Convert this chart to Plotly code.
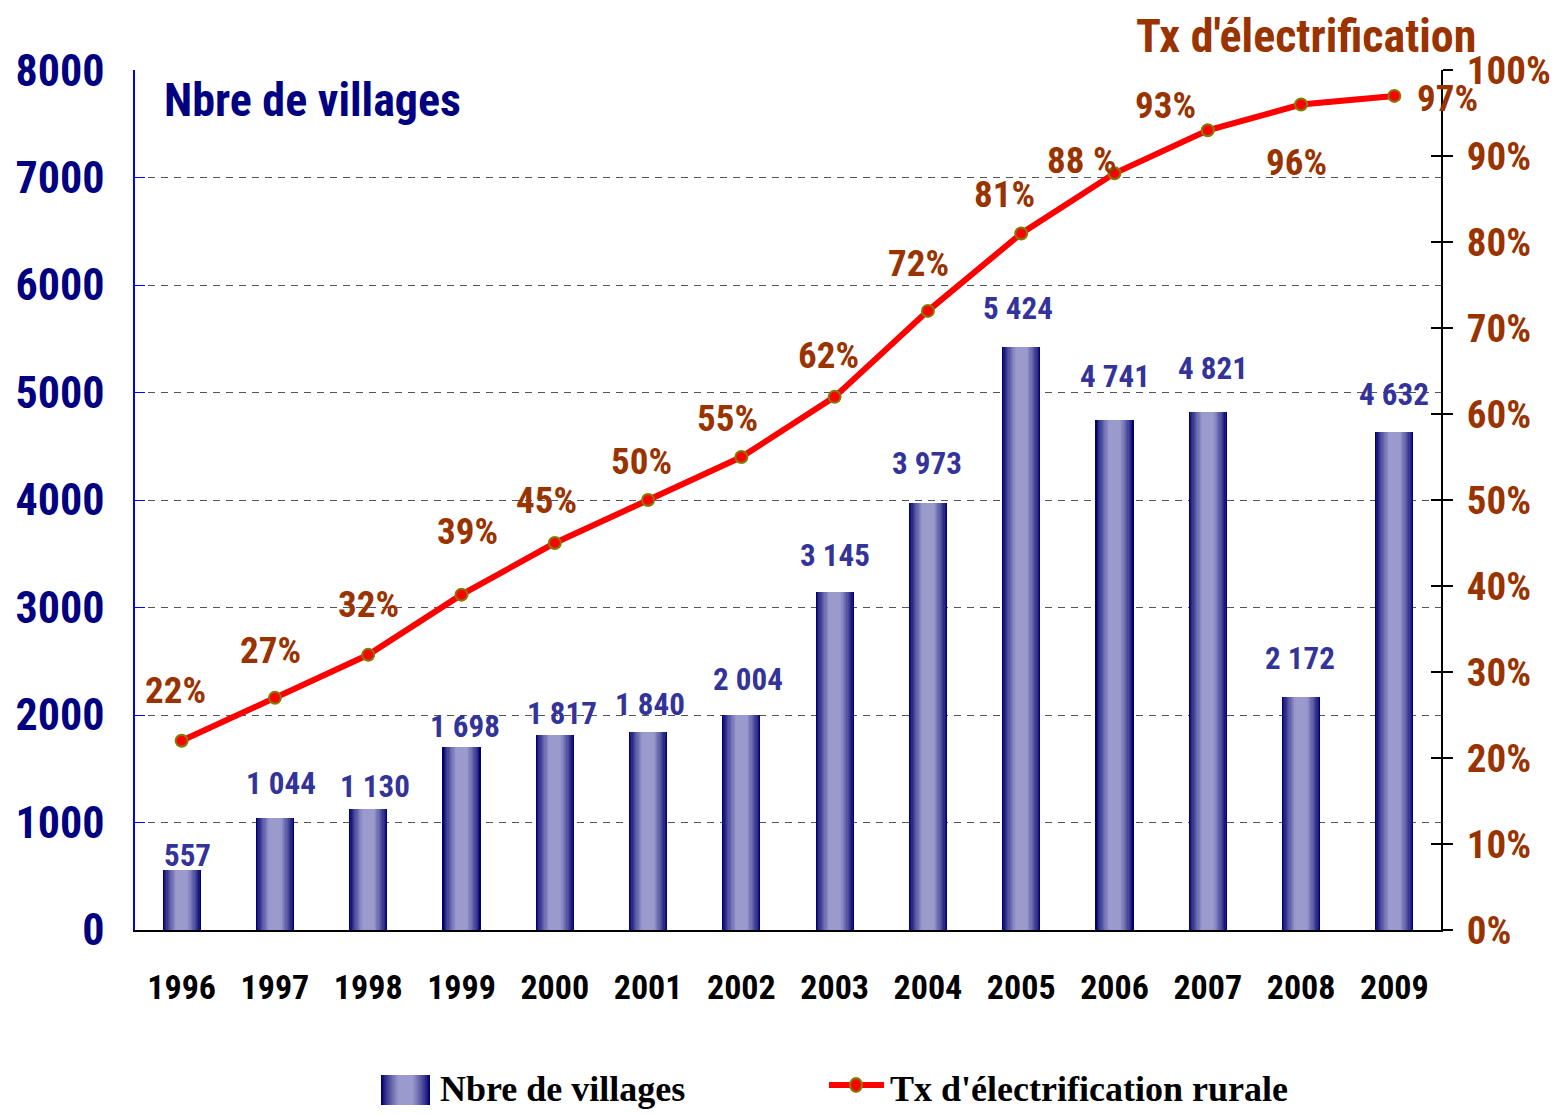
import plotly.graph_objects as go

years = ["1996", "1997", "1998", "1999", "2000", "2001", "2002", "2003", "2004", "2005", "2006", "2007", "2008", "2009"]
villages = [557, 1044, 1130, 1698, 1817, 1840, 2004, 3145, 3973, 5424, 4741, 4821, 2172, 4632]
villages_lbl = ["557", "1 044", "1 130", "1 698", "1 817", "1 840", "2 004", "3 145", "3 973", "5 424", "4 741", "4 821", "2 172", "4 632"]
taux = [22, 27, 32, 39, 45, 50, 55, 62, 72, 81, 88, 93, 96, 97]
taux_lbl = ["22%", "27%", "32%", "39%", "45%", "50%", "55%", "62%", "72%", "81%", "88 %", "93%", "96%", "97%"]
left_ticks = [0, 1000, 2000, 3000, 4000, 5000, 6000, 7000, 8000]
right_ticks = [0, 10, 20, 30, 40, 50, 60, 70, 80, 90, 100]
right_tick_lbl = ["0%", "10%", "20%", "30%", "40%", "50%", "60%", "70%", "80%", "90%", "100%"]

# label offsets (pixels, style only)
bar_lbl_dx = [6, 6, 7, 3, 7, 2, 7, 0, -1, -3, 0, 5, -1, 0]
bar_lbl_dy = [15, 34, 22, 21, 21, 28, 35, 36, 39, 38, 44, 43, 38, 38]
pct_lbl_dx = [-6, -4, 0, 6, -8, -7, -14, -6, -9, -17, -33, -42, -5, 53]
pct_lbl_dy = [50, 47, 50, 63, 43, 39, 39, 41, 47, 39, 13, 25, -58, -3]

NARROW = "Liberation Sans Narrow, Arial Narrow, Roboto Condensed, Liberation Sans, Arial"
SERIF = "Liberation Serif, Times New Roman, serif"
NAVY = "#000080"
BROWN = "#993300"
BARBLUE = "#333399"

def lerp(c1, c2, t):
    a = [int(c1[i:i+2], 16) for i in (1, 3, 5)]
    b = [int(c2[i:i+2], 16) for i in (1, 3, 5)]
    return "#%02x%02x%02x" % tuple(round(a[k] + (b[k] - a[k]) * t) for k in range(3))

fig = go.Figure()

# gradient bars: overlaid bars of decreasing width
N = 12
full_w = 0.41
for i in range(N):
    t = i / (N - 1)
    w = full_w * (1 - 0.72 * t)
    col = lerp("#000070", "#9a9acc", min(1.0, (t ** 0.8) * 1.05))
    fig.add_trace(go.Bar(
        x=years, y=villages, width=w, marker=dict(color=col, line=dict(width=0)),
        name="Nbre de villages", showlegend=False, hoverinfo="skip" if i else "x+y",
        yaxis="y",
    ))

fig.add_trace(go.Scatter(
    x=years, y=taux, yaxis="y2", mode="lines+markers",
    line=dict(color="#ff0000", width=6),
    marker=dict(size=12, color="#ff0000", line=dict(color="#808000", width=2)),
    name="Tx d'électrification rurale", showlegend=False,
))
# invisible trace for crossing tick axis
fig.add_trace(go.Scatter(x=years, y=taux, yaxis="y3", mode="none", showlegend=False, hoverinfo="skip"))

annotations = []
for i, y in enumerate(years):
    annotations.append(dict(
        x=i, y=villages[i], xref="x", yref="y", text=villages_lbl[i], showarrow=False,
        xshift=bar_lbl_dx[i], yshift=bar_lbl_dy[i], yanchor="middle",
        font=dict(family=NARROW, size=31, color=BARBLUE, weight="bold"),
    ))
    annotations.append(dict(
        x=i, y=taux[i], xref="x", yref="y2", text=taux_lbl[i], showarrow=False,
        xshift=pct_lbl_dx[i], yshift=pct_lbl_dy[i], yanchor="middle",
        font=dict(family=NARROW, size=37, color=BROWN, weight="bold"),
    ))

# axis titles inside / above
annotations.append(dict(
    x=0.021, y=0.965, xref="paper", yref="paper", text="Nbre de villages", showarrow=False,
    xanchor="left", yanchor="middle",
    font=dict(family=NARROW, size=46, color=NAVY, weight="bold"),
))
annotations.append(dict(
    x=1.028, y=1.0395, xref="paper", yref="paper", text="Tx d'électrification", showarrow=False,
    xanchor="right", yanchor="middle",
    font=dict(family=NARROW, size=46, color=BROWN, weight="bold"),
))

# manual legend (positions relative to the plot area, in pixels of the reference)
def px_x(px):
    return (px - 135) / 1306
def px_y(py):
    return (930 - py) / 860

shapes = []
L, R, T, B = 381, 430, 1075, 1105
for i in range(N):
    t = i / (N - 1)
    w = (R - L) * (1 - 0.72 * t)
    c = (L + R) / 2
    col = lerp("#000070", "#9a9acc", min(1.0, (t ** 0.8) * 1.05))
    shapes.append(dict(type="rect", xref="paper", yref="paper",
                       x0=px_x(c - w / 2), x1=px_x(c + w / 2), y0=px_y(B), y1=px_y(T),
                       fillcolor=col, line=dict(width=0), layer="above"))
shapes.append(dict(type="line", xref="paper", yref="paper",
                   x0=px_x(829), x1=px_x(884), y0=px_y(1085), y1=px_y(1085),
                   line=dict(color="#ff0000", width=6), layer="above"))
shapes.append(dict(type="circle", xref="paper", yref="paper",
                   x0=px_x(850), x1=px_x(862), y0=px_y(1092), y1=px_y(1078),
                   fillcolor="#ff0000", line=dict(color="#808000", width=2), layer="above"))
annotations.append(dict(
    x=px_x(438), y=px_y(1089), xref="paper", yref="paper", text="Nbre de villages", showarrow=False,
    xanchor="left", yanchor="middle",
    font=dict(family=SERIF, size=36, color="#000000", weight="bold"),
))
annotations.append(dict(
    x=px_x(888), y=px_y(1089), xref="paper", yref="paper", text="Tx d'électrification rurale", showarrow=False,
    xanchor="left", yanchor="middle",
    font=dict(family=SERIF, size=36, color="#000000", weight="bold"),
))

# page body has an 8px margin: shrink the figure and margins so the plot lands where the reference has it
fig.update_layout(
    width=1550, height=1107,
    margin=dict(l=127, r=117, t=62, b=185, autoexpand=False),
    paper_bgcolor="white", plot_bgcolor="white",
    barmode="overlay", bargap=0,
    showlegend=False,
    annotations=annotations, shapes=shapes,
    xaxis=dict(
        type="category", categoryorder="array", categoryarray=years,
        showline=True, linecolor="#000000", linewidth=2, ticks="",
        tickfont=dict(family=NARROW, size=34, color="#000000", weight="bold"),
        ticklabelstandoff=26, showgrid=False, zeroline=False, range=[-0.5, 13.5],
    ),
    yaxis=dict(
        range=[0, 8001], tickvals=left_ticks, showline=True, linecolor="#0000ff", linewidth=1.5,
        ticks="inside", ticklen=10, tickcolor="#0000ff",
        tickfont=dict(family=NARROW, size=44, color=NAVY, weight="bold"),
        ticklabelstandoff=20,
        showgrid=True, gridcolor="#555555", griddash="7px,6px", gridwidth=1, zeroline=False,
    ),
    yaxis2=dict(
        range=[0, 100.0125], tickvals=right_ticks, ticktext=right_tick_lbl, overlaying="y", side="right",
        showline=True, linecolor="#000000", linewidth=2, ticks="outside", ticklen=10,
        tickwidth=2, tickcolor="#000000",
        tickfont=dict(family=NARROW, size=39, color=BROWN, weight="bold"),
        ticklabelstandoff=6, showgrid=False, zeroline=False,
    ),
    yaxis3=dict(
        range=[0, 100.0125], tickvals=right_ticks, overlaying="y", side="right", anchor="x",
        showline=False, ticks="inside", ticklen=10, tickwidth=2, tickcolor="#000000",
        showticklabels=False, showgrid=False, zeroline=False,
    ),
)

fig.write_html("out.html")
